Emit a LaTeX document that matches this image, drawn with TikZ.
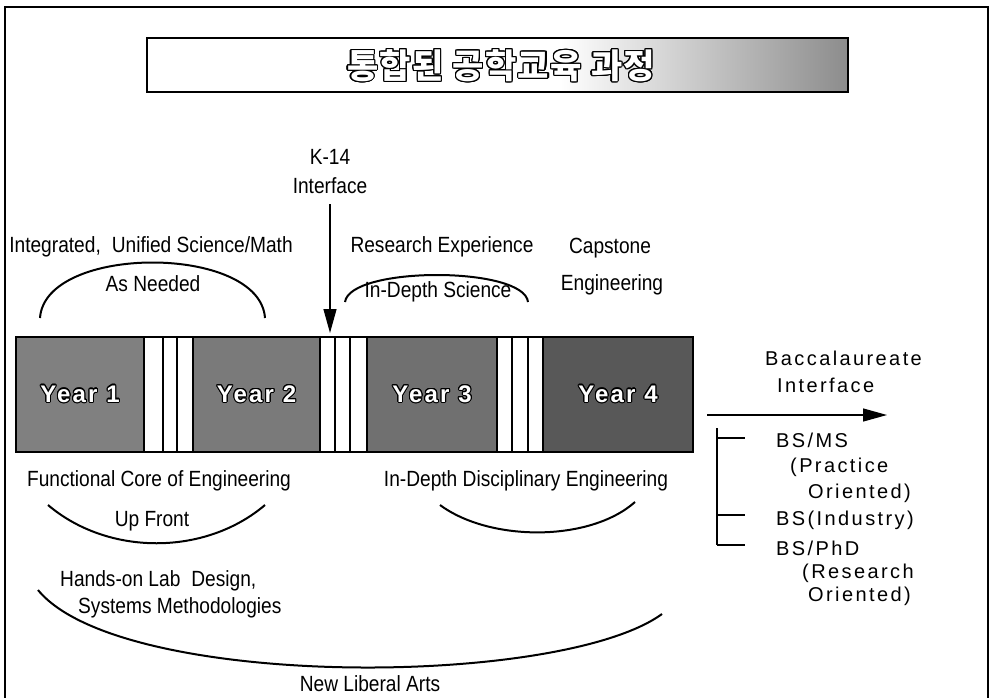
\documentclass[tikz,border=0pt]{standalone}
\usepackage{fontspec}
\setmainfont{Liberation Sans}
\newfontfamily\narrowf{Liberation Sans}[FakeStretch=0.87]
\newfontfamily\widef{Liberation Sans}[LetterSpace=12]
\newfontfamily\yearf{Liberation Sans}[LetterSpace=9]
\newfontfamily\krf{Noto Sans CJK KR}[LetterSpace=4]
\usepackage{contour}
\usetikzlibrary{arrows.meta}
\definecolor{yA}{HTML}{808080}
\definecolor{yB}{HTML}{7A7A7A}
\definecolor{yC}{HTML}{707070}
\definecolor{yD}{HTML}{585858}
\tikzset{
  lab/.style={font=\narrowf\fontsize{22}{24}\selectfont, inner sep=0pt},
  rlab/.style={font=\widef\fontsize{20}{22}\selectfont, inner sep=0pt, anchor=west},
  yblk/.style={draw=black, line width=1.5pt, minimum height=115pt, inner sep=0pt,
    font=\yearf\bfseries\fontsize{24}{26}\selectfont, text=white},
  gapblk/.style={draw=black, line width=1.5pt, fill=white, minimum height=115pt, inner sep=0pt},
  arc/.style={line width=2pt},
  arr/.style={line width=1.3pt, -{Triangle[length=24pt,width=13pt]}},
  thin/.style={line width=1.2pt}
}
\contourlength{1.1pt}
\begin{document}
\begin{tikzpicture}[x=1pt,y=-1pt]
\useasboundingbox (0,0) rectangle (995,698);
% outer frame (open at the bottom)
\draw[line width=1.4pt] (5,698) -- (5,7) -- (988,7) -- (988,698);
% title box
\fill[white] (147,38) rectangle (848,92);
\shade[left color=white, right color=black!45] (560,38) rectangle (848,92);
\draw[line width=1.6pt] (147,38) rectangle (848,92);
\node[font=\krf\bfseries\fontsize{34}{36}\selectfont, text=white, inner sep=0pt] (title) at (501,66) {\contour{black}{통합된 공학교육 과정}};

% K-14 interface
\node[lab] (k14) at (330,157) {K-14};
\node[lab] (k14i) at (330,186) {Interface};
\coordinate (bartop) at (330,333);
\draw[arr] ([yshift=-10pt]k14i.south) -- (bartop);

% upper labels
\node[lab] (isci) at (151,247) {Integrated,\enspace Unified Science/Math};
\node[lab] (asn) at (153,284) {As Needed};
\draw[arc] (40,318) .. controls (45,244) and (260,244) .. (265,318);
\node[lab] (rexp) at (442,247) {Research Experience};
\node[lab] (ids) at (438,292) {In-Depth Science};
\draw[arc] (345,302) .. controls (350,266) and (524,266) .. (528,302);
\node[lab] (cap) at (610,248) {Capstone};
\node[lab] (capE) at (612,285) {Engineering};

% the bar
\node[yblk, fill=yA, minimum width=128pt] (y1) at (80,394.5) {\contour{black}{Year 1}};
\node[gapblk, minimum width=49pt] (g1) at (168.5,394.5) {};
\node[yblk, fill=yB, minimum width=127pt] (y2) at (256.5,394.5) {\contour{black}{Year 2}};
\node[gapblk, minimum width=47pt] (g2) at (343.5,394.5) {};
\node[yblk, fill=yC, minimum width=130pt] (y3) at (432,394.5) {\contour{black}{Year 3}};
\node[gapblk, minimum width=46pt] (g3) at (520,394.5) {};
\node[yblk, fill=yD, minimum width=150pt] (y4) at (618,394.5) {\contour{black}{Year 4}};
\foreach \xx in {163,177,335,350,512,528}
  \draw[line width=1.5pt] (\xx,337) -- (\xx,452);
\draw[line width=2.5pt] (16,337) rectangle (693,452);

% baccalaureate interface
\node[rlab] (bacc) at (765,358) {Baccalaureate};
\node[rlab] (bint) at (777,385) {Interface};
\coordinate (ba0) at (707,415);
\coordinate (ba1) at (887,415);
\draw[arr] (ba0) -- (ba1);
\coordinate (br0) at (717,428);
\coordinate (br1) at (717,545);
\draw[thin] (br0) -- (br1);
\coordinate (t1) at (717,438);
\coordinate (t2) at (717,515);
\draw[thin] (t1) -- ++(28,0);
\draw[thin] (t2) -- ++(28,0);
\draw[thin] (br1) -- ++(28,0);
\node[rlab] (bsms) at (776,440) {BS/MS};
\node[rlab] (prac) at (790,467) {(Practice};
\node[rlab] (or1) at (808,493) {Oriented)};
\node[rlab] (bsind) at (776,520) {BS(Industry)};
\node[rlab] (bsphd) at (776,548) {BS/PhD};
\node[rlab] (res) at (802,573) {(Research};
\node[rlab] (or2) at (808,596) {Oriented)};

% lower labels
\node[lab] (fce) at (159,481) {Functional Core of Engineering};
\node[lab] (upf) at (152,521) {Up Front};
\draw[arc] (48,505) .. controls (108,556) and (205,556) .. (265,505);
\node[lab] (idde) at (526,481) {In-Depth Disciplinary Engineering};
\draw[arc] (440,505) .. controls (490,542) and (590,542) .. (635,502);
\node[lab, anchor=west] (hol) at (60,581) {Hands-on Lab\enspace Design,};
\node[lab, anchor=west] (sysm) at (78,608) {Systems Methodologies};
\draw[arc] (38,590) .. controls (120,690) and (560,688) .. (662,614);
\node[lab] (nla) at (370,684) {New Liberal Arts};
\end{tikzpicture}
\end{document}
